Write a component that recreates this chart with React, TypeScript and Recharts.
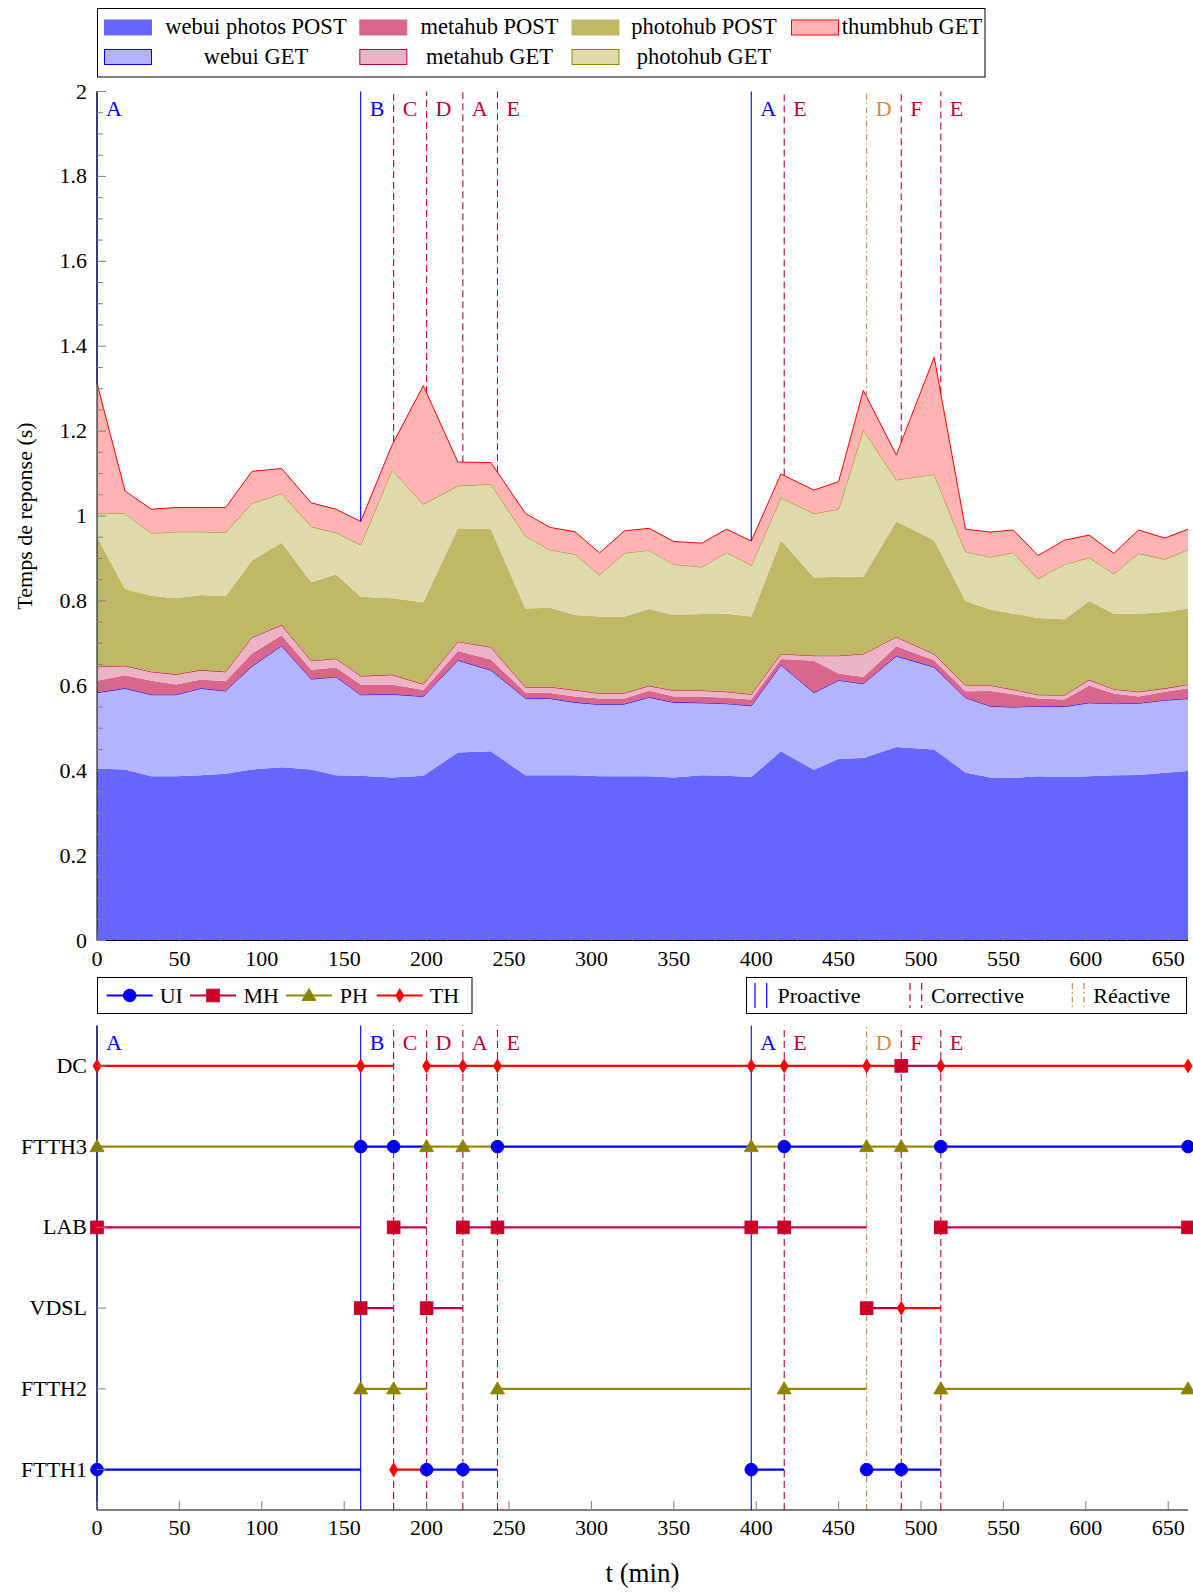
import React from "react";
import {
  AreaChart,
  Area,
  LineChart,
  Line,
  XAxis,
  YAxis,
  ReferenceLine,
} from "recharts";

const FONT = '"Liberation Serif", "Times New Roman", serif';
const TICK = "#7f7f7f";

// ---- response times (stacked), one value per measurement ----
const minutes = [
  0, 17, 33, 48, 63, 78, 94, 112, 130, 145, 160, 179, 198, 219, 239, 260, 275,
  290, 305, 320, 335, 350, 367, 382, 397, 415, 435, 450, 465, 485, 508, 527,
  542, 556, 571, 587, 602, 617, 632, 648, 662,
];
const webuiPhotosPost = [
  0.405, 0.403, 0.387, 0.387, 0.389, 0.393, 0.403, 0.408, 0.403, 0.389, 0.388,
  0.384, 0.388, 0.443, 0.446, 0.389, 0.389, 0.389, 0.387, 0.387, 0.387, 0.384,
  0.389, 0.388, 0.385, 0.446, 0.402, 0.428, 0.43, 0.456, 0.45, 0.396, 0.384,
  0.383, 0.387, 0.385, 0.387, 0.389, 0.39, 0.395, 0.399,
];
const webuiGet = [
  0.179, 0.191, 0.192, 0.192, 0.205, 0.195, 0.243, 0.286, 0.213, 0.232, 0.191,
  0.196, 0.187, 0.217, 0.191, 0.182, 0.181, 0.172, 0.169, 0.17, 0.186, 0.177,
  0.171, 0.17, 0.168, 0.203, 0.182, 0.185, 0.175, 0.214, 0.194, 0.176, 0.168,
  0.167, 0.165, 0.166, 0.173, 0.169, 0.169, 0.171, 0.171,
];
const metahubPost = [
  0.028, 0.031, 0.033, 0.024, 0.021, 0.023, 0.03, 0.025, 0.022, 0.022, 0.024,
  0.023, 0.015, 0.022, 0.025, 0.013, 0.013, 0.014, 0.014, 0.013, 0.016, 0.014,
  0.015, 0.014, 0.015, 0.014, 0.075, 0.016, 0.016, 0.023, 0.016, 0.015, 0.036,
  0.03, 0.018, 0.017, 0.041, 0.024, 0.016, 0.02, 0.024,
];
const metahubGet = [
  0.033, 0.022, 0.021, 0.024, 0.022, 0.022, 0.038, 0.024, 0.021, 0.021, 0.02,
  0.023, 0.014, 0.022, 0.029, 0.013, 0.014, 0.015, 0.012, 0.013, 0.011, 0.014,
  0.014, 0.014, 0.012, 0.012, 0.012, 0.042, 0.054, 0.022, 0.015, 0.014, 0.013,
  0.011, 0.009, 0.01, 0.013, 0.01, 0.011, 0.008, 0.009,
];
const photohubPost = [
  0.306, 0.181, 0.179, 0.179, 0.177, 0.178, 0.181, 0.194, 0.185, 0.199, 0.187,
  0.18, 0.193, 0.267, 0.278, 0.185, 0.187, 0.177, 0.181, 0.18, 0.181, 0.178,
  0.18, 0.184, 0.183, 0.268, 0.184, 0.186, 0.182, 0.272, 0.268, 0.199, 0.179,
  0.179, 0.181, 0.179, 0.186, 0.178, 0.184, 0.18, 0.179,
];
const photohubGet = [
  0.055, 0.178, 0.147, 0.157, 0.149, 0.15, 0.135, 0.116, 0.131, 0.098, 0.122,
  0.302, 0.231, 0.1, 0.106, 0.171, 0.136, 0.143, 0.098, 0.15, 0.138, 0.119,
  0.111, 0.144, 0.121, 0.1, 0.151, 0.159, 0.346, 0.098, 0.155, 0.116, 0.123,
  0.144, 0.092, 0.129, 0.102, 0.094, 0.142, 0.124, 0.139,
];
const thumbhubGet = [
  0.307, 0.053, 0.057, 0.057, 0.057, 0.059, 0.075, 0.059, 0.056, 0.055, 0.055,
  0.059, 0.279, 0.056, 0.051, 0.053, 0.053, 0.053, 0.052, 0.052, 0.052, 0.054,
  0.056, 0.055, 0.057, 0.056, 0.055, 0.065, 0.093, 0.059, 0.276, 0.053, 0.059,
  0.053, 0.055, 0.057, 0.053, 0.048, 0.055, 0.05, 0.048,
];

// ---- reconfiguration events ----
const eventTimes = [0, 160, 180, 200, 222, 243, 397, 417, 467, 488, 512];
const eventNames = ["A", "B", "C", "D", "A", "E", "A", "E", "D", "F", "E"];
const eventKinds = [
  "proactive", "proactive", "corrective", "corrective", "corrective",
  "corrective", "proactive", "corrective", "reactive", "corrective",
  "corrective",
];
const endTime = 662;

// ---- placement of each service after each event ----
const rows = ["FTTH1", "FTTH2", "VDSL", "LAB", "FTTH3", "DC"];
const uiPlacement = ["FTTH1", "FTTH3", "FTTH3", "FTTH1", "FTTH1", "FTTH3", "FTTH1", "FTTH3", "FTTH1", "FTTH1", "FTTH3"];
const mhPlacement = ["LAB", "VDSL", "LAB", "VDSL", "LAB", "LAB", "LAB", "LAB", "VDSL", "DC", "LAB"];
const phPlacement = ["FTTH3", "FTTH2", "FTTH2", "FTTH3", "FTTH3", "FTTH2", "FTTH3", "FTTH2", "FTTH3", "FTTH3", "FTTH2"];
const thPlacement = ["DC", "DC", "FTTH1", "DC", "DC", "DC", "DC", "DC", "DC", "VDSL", "DC"];

// tick labels
const xMajorTicks = [0, 50, 100, 150, 200, 250, 300, 350, 400, 450, 500, 550, 600, 650];
const yMajorTicks = [0, 0.2, 0.4, 0.6, 0.8, 1, 1.2, 1.4, 1.6, 1.8, 2];

const xTicksTop: number[] = [];
for (let i = 0; i * 12.5 <= 650; i++) xTicksTop.push(i * 12.5);
const yTicksTop: number[] = [];
for (let i = 0; i <= 40; i++) yTicksTop.push(Number((i * 0.05).toFixed(2)));

const kindStyle: Record<string, { color: string; dash?: string }> = {
  proactive: { color: "#0000ff" },
  corrective: { color: "#bf0040", dash: "7 4" },
  reactive: { color: "#d4883a", dash: "6 3 1.5 3" },
};

const series = [
  { key: "webuiPhotosPost", name: "webui photos POST", values: webuiPhotosPost, fill: "#6666ff", stroke: "none" },
  { key: "webuiGet", name: "webui GET", values: webuiGet, fill: "#b3b3ff", stroke: "#0000ff" },
  { key: "metahubPost", name: "metahub POST", values: metahubPost, fill: "#d9668c", stroke: "none" },
  { key: "metahubGet", name: "metahub GET", values: metahubGet, fill: "#ecb3c6", stroke: "#bf0040" },
  { key: "photohubPost", name: "photohub POST", values: photohubPost, fill: "#bfb866", stroke: "none" },
  { key: "photohubGet", name: "photohub GET", values: photohubGet, fill: "#dfdaab", stroke: "#948900" },
  { key: "thumbhubGet", name: "thumbhub GET", values: thumbhubGet, fill: "#ffb3b3", stroke: "#ff0000" },
];

const areaData = minutes.map((t, i) => {
  const row: any = { t };
  series.forEach((s) => (row[s.key] = s.values[i]));
  return row;
});

// total of the stack at time t (event lines stop where the areas begin)
const stackTotals = minutes.map((_, i) => series.reduce((acc, s) => acc + s.values[i], 0));
const stackTopAt = (t: number) => {
  for (let i = 0; i < minutes.length - 1; i++) {
    if (t >= minutes[i] && t <= minutes[i + 1]) {
      const f = (t - minutes[i]) / (minutes[i + 1] - minutes[i]);
      return stackTotals[i] + f * (stackTotals[i + 1] - stackTotals[i]);
    }
  }
  return stackTotals[stackTotals.length - 1];
};

const services = [
  { name: "UI", placement: uiPlacement, color: "#0000ff", shape: "circle" },
  { name: "MH", placement: mhPlacement, color: "#bf0040", shape: "square" },
  { name: "PH", placement: phPlacement, color: "#948900", shape: "triangle" },
  { name: "TH", placement: thPlacement, color: "#ff0000", shape: "diamond" },
];

// one point per event, a break (null) where the service moves to another node
const buildTrack = (placement: string[]) => {
  const pts: { t: number; y: number | null; mark: boolean }[] = [];
  placement.forEach((loc, i) => {
    const y = rows.indexOf(loc);
    pts.push({ t: eventTimes[i], y, mark: true });
    if (i === placement.length - 1) {
      pts.push({ t: endTime, y, mark: true });
    } else if (placement[i + 1] !== loc) {
      pts.push({ t: eventTimes[i + 1], y, mark: false });
      pts.push({ t: eventTimes[i + 1], y: null, mark: false });
    }
  });
  return pts;
};

const marker = (shape: string, cx: number, cy: number, color: string, key?: any) => {
  if (shape === "circle")
    return <circle key={key} cx={cx} cy={cy} r={6.3} fill="#0000ee" stroke="#0000ff" />;
  if (shape === "square")
    return <rect key={key} x={cx - 6.3} y={cy - 6.3} width={12.6} height={12.6} fill="#cc0022" stroke={color} strokeWidth={1} />;
  if (shape === "triangle")
    return (
      <polygon key={key} points={`${cx},${cy - 7} ${cx - 7},${cy + 5} ${cx + 7},${cy + 5}`} fill="#8c8200" stroke={color} strokeWidth={1} />
    );
  return (
    <polygon key={key} points={`${cx},${cy - 7.5} ${cx + 4.5},${cy} ${cx},${cy + 7.5} ${cx - 4.5},${cy}`} fill="#ff0000" />
  );
};

const makeDot = (shape: string, color: string) => (props: any) => {
  const { cx, cy, payload, index } = props;
  if (!payload || !payload.mark || cy == null || isNaN(cy)) return <g key={`d${index}`} />;
  return marker(shape, cx, cy, color, `d${index}`);
};

// ---- ticks drawn inward, pgfplots style ----
const bottomTick = (labels: boolean) => (props: any) => {
  const { x, y, payload } = props;
  const major = xMajorTicks.includes(payload.value);
  return (
    <g>
      <line x1={x} x2={x} y1={y} y2={y - (major ? 9 : 6)} stroke={TICK} />
      {labels && major && (
        <text x={x} y={y + 25} textAnchor="middle" fontSize={22} fontFamily={FONT} fill="#000">
          {payload.value}
        </text>
      )}
    </g>
  );
};
const topTick = (props: any) => {
  const { x, y, payload } = props;
  const major = xMajorTicks.includes(payload.value);
  return <line x1={x} x2={x} y1={y} y2={y + (major ? 9 : 6)} stroke={TICK} />;
};
const leftTickTop = (props: any) => {
  const { x, y, payload } = props;
  const v = payload.value;
  const major = yMajorTicks.some((m) => Math.abs(m - v) < 1e-6);
  return (
    <g>
      <line x1={x} x2={x + (major ? 9 : 6)} y1={y} y2={y} stroke={TICK} />
      {major && (
        <text x={x - 10} y={y + 7} textAnchor="end" fontSize={22} fontFamily={FONT} fill="#000">
          {String(v)}
        </text>
      )}
    </g>
  );
};
const rightTickTop = (props: any) => {
  const { x, y, payload } = props;
  const major = yMajorTicks.some((m) => Math.abs(m - payload.value) < 1e-6);
  return <line x1={x} x2={x - (major ? 9 : 6)} y1={y} y2={y} stroke={TICK} />;
};
const leftTickRows = (props: any) => {
  const { x, y, payload } = props;
  return (
    <g>
      <line x1={x} x2={x + 9} y1={y} y2={y} stroke={TICK} />
      <text x={x - 10} y={y + 7} textAnchor="end" fontSize={22} fontFamily={FONT} fill="#000">
        {rows[payload.value]}
      </text>
    </g>
  );
};
const rightTickRows = (props: any) => {
  const { x, y } = props;
  return <line x1={x} x2={x - 9} y1={y} y2={y} stroke={TICK} />;
};

// event markers; in the response-time chart they stop at the top of the stack
const eventLines = (yMax?: number) =>
  eventTimes.map((t, i) => {
    const st = kindStyle[eventKinds[i]];
    const seg = yMax != null ? { segment: [{ x: t, y: stackTopAt(t) }, { x: t, y: yMax }] } : { x: t };
    return (
      <ReferenceLine
        key={`ev${i}`}
        {...(seg as any)}
        stroke={st.color}
        strokeWidth={1.1}
        strokeDasharray={st.dash}
        label={{
          value: eventNames[i],
          position: "insideTopLeft",
          offset: 9,
          fill: st.color,
          fontSize: 22,
          fontFamily: FONT,
        }}
      />
    );
  });

const axisLine = { stroke: "#000", strokeWidth: 1 };

const TopChart = () => (
  <AreaChart width={1193} height={985} data={areaData} margin={{ top: 91.5, right: 5, bottom: 4.5, left: 37 }}>
    {series.map((s) => (
      <Area
        key={s.key}
        dataKey={s.key}
        name={s.name}
        stackId="rt"
        type="linear"
        fill={s.fill}
        fillOpacity={1}
        stroke={s.stroke}
        strokeWidth={1}
        dot={false}
        activeDot={false}
        isAnimationActive={false}
      />
    ))}
    {eventLines(2)}
    <XAxis dataKey="t" type="number" domain={[0, endTime]} ticks={xTicksTop} interval={0}
      height={40} tickSize={0} tickMargin={0} tickLine={false} axisLine={axisLine} tick={bottomTick(true)} />
    <XAxis xAxisId="top" orientation="top" type="number" domain={[0, endTime]} ticks={xTicksTop} interval={0}
      height={0} tickSize={0} tickMargin={0} tickLine={false} axisLine={axisLine} tick={topTick} />
    <YAxis type="number" domain={[0, 2]} ticks={yTicksTop} interval={0} width={60}
      tickSize={0} tickMargin={0} tickLine={false} axisLine={axisLine} tick={leftTickTop} />
    <YAxis yAxisId="right" orientation="right" type="number" domain={[0, 2]} ticks={yTicksTop} interval={0} width={0}
      tickSize={0} tickMargin={0} tickLine={false} axisLine={axisLine} tick={rightTickTop} />
  </AreaChart>
);

const BottomChart = () => (
  <LineChart width={1193} height={607} margin={{ top: 40.5, right: 5, bottom: 42, left: 37 }}>
    {eventLines()}
    {services.map((s) => (
      <Line
        key={s.name}
        data={buildTrack(s.placement)}
        dataKey="y"
        name={s.name}
        type="linear"
        stroke={s.color}
        strokeWidth={2.2}
        connectNulls={false}
        dot={makeDot(s.shape, s.color)}
        activeDot={false}
        isAnimationActive={false}
      />
    ))}
    <XAxis dataKey="t" type="number" domain={[0, endTime]} ticks={xMajorTicks} interval={0} allowDuplicatedCategory
      height={40} tickSize={0} tickMargin={0} tickLine={false} axisLine={axisLine} tick={bottomTick(true)} />
    <XAxis xAxisId="top" orientation="top" type="number" domain={[0, endTime]} ticks={xMajorTicks} interval={0}
      height={0} tickSize={0} tickMargin={0} tickLine={false} axisLine={axisLine} tick={topTick} />
    <YAxis type="number" domain={[-0.5, 5.5]} ticks={[0, 1, 2, 3, 4, 5]} interval={0} width={60}
      tickSize={0} tickMargin={0} tickLine={false} axisLine={axisLine} tick={leftTickRows} />
    <YAxis yAxisId="right" orientation="right" type="number" domain={[-0.5, 5.5]} ticks={[0, 1, 2, 3, 4, 5]} interval={0} width={0}
      tickSize={0} tickMargin={0} tickLine={false} axisLine={axisLine} tick={rightTickRows} />
  </LineChart>
);

// legend layout (page coordinates)
const topLegendOrder = ["webuiPhotosPost", "metahubPost", "photohubPost", "thumbhubGet", "webuiGet", "metahubGet", "photohubGet"];
const legendColX = [104.5, 359.8, 572, 791.5];
const legendColText = [256, 489.5, 704, 912];
const legendRowY = [20, 49.5];

const serviceLegendX = [{ l: 106.7, t: 171.3 }, { l: 190, t: 261.3 }, { l: 286, t: 353.8 }, { l: 376.7, t: 444.5 }];
const kindLegend = [
  { kind: "proactive", label: "Proactive", x: 755, t: 819 },
  { kind: "corrective", label: "Corrective", x: 910, t: 977.5 },
  { kind: "reactive", label: "Réactive", x: 1072.3, t: 1131.7 },
];

const Overlay = () => (
  <svg width={1193} height={1592} style={{ position: "absolute", left: 0, top: 0, pointerEvents: "none" }}>
    {/* response-time legend */}
    <rect x={97.5} y={8.5} width={887.5} height={68.5} fill="#fff" stroke="#000" strokeWidth={1} />
    {topLegendOrder.map((k, i) => {
      const s = series.find((x) => x.key === k)!;
      const col = i % 4;
      const row = Math.floor(i / 4);
      const y = legendRowY[row];
      return (
        <g key={k}>
          <rect x={legendColX[col]} y={y} width={47} height={15} fill={s.fill}
            stroke={s.stroke === "none" ? s.fill : s.stroke} strokeWidth={1} />
          <text x={legendColText[col]} y={y + 14} textAnchor="middle" fontSize={22.5} fontFamily={FONT} fill="#000">
            {s.name}
          </text>
        </g>
      );
    })}

    {/* services legend */}
    <rect x={97.5} y={977.5} width={374.5} height={36} fill="#fff" stroke="#000" strokeWidth={1} />
    {services.map((s, i) => (
      <g key={s.name}>
        <line x1={serviceLegendX[i].l} x2={serviceLegendX[i].l + 46} y1={995.5} y2={995.5} stroke={s.color} strokeWidth={2.2} />
        {marker(s.shape, serviceLegendX[i].l + 23, 995.5, s.color)}
        <text x={serviceLegendX[i].t} y={1003} textAnchor="middle" fontSize={22} fontFamily={FONT} fill="#000">
          {s.name}
        </text>
      </g>
    ))}

    {/* event kinds legend */}
    <rect x={746.5} y={977.5} width={440} height={36} fill="#fff" stroke="#000" strokeWidth={1} />
    {kindLegend.map((k) => {
      const st = kindStyle[k.kind];
      return (
        <g key={k.kind}>
          <line x1={k.x} x2={k.x} y1={983} y2={1008} stroke={st.color} strokeWidth={1.2} strokeDasharray={st.dash} />
          <line x1={k.x + 11.7} x2={k.x + 11.7} y1={983} y2={1008} stroke={st.color} strokeWidth={1.2} strokeDasharray={st.dash} />
          <text x={k.t} y={1003} textAnchor="middle" fontSize={22} fontFamily={FONT} fill="#000">
            {k.label}
          </text>
        </g>
      );
    })}

    {/* axis titles */}
    <text x={0} y={0} transform="translate(32,516) rotate(-90)" textAnchor="middle" fontSize={22} fontFamily={FONT} fill="#000">
      Temps de reponse (s)
    </text>
    <text x={642.5} y={1582} textAnchor="middle" fontSize={27} fontFamily={FONT} fill="#000">
      t (min)
    </text>
  </svg>
);

export default function App() {
  return (
    <div style={{ position: "relative", width: 1193, height: 1592, background: "#fff" }}>
      <style>{`body{margin:0}`}</style>
      <div style={{ position: "absolute", left: 0, top: 0 }}>
        <TopChart />
      </div>
      <div style={{ position: "absolute", left: 0, top: 985 }}>
        <BottomChart />
      </div>
      <Overlay />
    </div>
  );
}
